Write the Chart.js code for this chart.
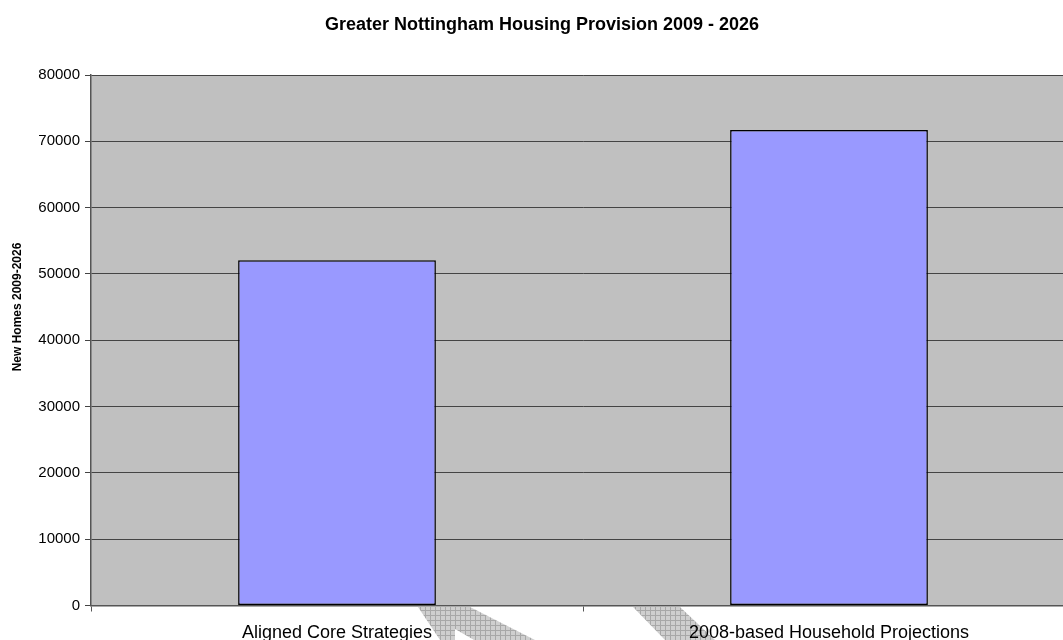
<!DOCTYPE html>
<html>
<head>
<meta charset="utf-8">
<script src="https://cdn.jsdelivr.net/npm/chart.js@4"></script>
<style>
  html, body { margin: 0; padding: 0; background: #fff; overflow: hidden; }
  #wrap { width: 1075px; height: 640px; }
</style>
</head>
<body>
<div id="wrap"><canvas id="housingChart"></canvas></div>
<script>
// 資料
const categories = ['Aligned Core Strategies', '2008-based Household Projections'];
const newHomes = [52050, 71700];
const yTicks = [0, 10000, 20000, 30000, 40000, 50000, 60000, 70000, 80000];

const chartTitle = 'Greater Nottingham Housing Provision 2009 - 2026';
const yTitle = 'New Homes 2009-2026';
const FONT = '"Liberation Sans", Arial, sans-serif';

// 網格花紋 (底部的浮水印箭頭)
function hatchPattern(ctx) {
    const c = document.createElement('canvas');
    c.width = 5; c.height = 5;
    const p = c.getContext('2d');
    p.fillStyle = '#cfcfcf';
    p.fillRect(0, 0, 5, 5);
    p.fillStyle = '#a8a8a8';
    p.fillRect(0, 0, 5, 1);
    p.fillRect(0, 0, 1, 5);
    return ctx.createPattern(c, 'repeat');
}

function poly(ctx, pts) {
    ctx.beginPath();
    pts.forEach(([x, y], i) => i ? ctx.lineTo(x, y) : ctx.moveTo(x, y));
    ctx.closePath();
    ctx.fill();
}

// 標題與灰色底
const decorPlugin = {
    id: 'decor',
    beforeDraw(chart) {
        const { ctx, chartArea: a } = chart;
        ctx.save();
        ctx.fillStyle = '#c0c0c0';
        ctx.fillRect(a.left, a.top, a.right - a.left, a.bottom - a.top);
        // 浮水印
        ctx.fillStyle = hatchPattern(ctx);
        poly(ctx, [[418, 607], [470, 607], [535, 640], [440, 640]]);
        poly(ctx, [[633, 607], [680, 607], [715, 640], [665, 640]]);
        ctx.fillStyle = '#fff';
        poly(ctx, [[455, 629], [474, 640], [455, 640]]);
        ctx.restore();
    },
    afterDraw(chart) {
        const ctx = chart.ctx;
        ctx.save();
        ctx.fillStyle = '#000';
        ctx.textAlign = 'center';
        ctx.textBaseline = 'middle';
        ctx.font = 'bold 18px ' + FONT;
        ctx.fillText(chartTitle, 542, 25);
        ctx.font = 'bold 12px ' + FONT;
        ctx.translate(18, 307);
        ctx.rotate(-Math.PI / 2);
        ctx.fillText(yTitle, 0, 0);
        ctx.restore();
    }
};

new Chart(document.getElementById('housingChart'), {
    type: 'bar',
    data: {
        labels: categories,
        datasets: [{
            data: newHomes,
            backgroundColor: '#9999ff',
            borderColor: '#000',
            borderWidth: 1.5,
            borderSkipped: false,
            barPercentage: 0.402,
            categoryPercentage: 1
        }]
    },
    options: {
        responsive: true,
        maintainAspectRatio: false,
        animation: false,
        devicePixelRatio: 1,
        layout: { padding: { top: 75, right: 0, bottom: 0, left: 0 } },
        plugins: {
            legend: { display: false },
            title: { display: false },
            tooltip: { enabled: false }
        },
        scales: {
            x: {
                offset: true,
                grid: {
                    offset: true,
                    drawOnChartArea: false,
                    tickLength: 6,
                    color: '#555'
                },
                border: { color: '#555', width: 1.5 },
                ticks: {
                    color: '#000',
                    padding: 11,
                    maxRotation: 0,
                    font: { family: FONT, size: 18 }
                },
                afterFit(s) { s.height = 34.5; }
            },
            y: {
                min: 0,
                max: 80000,
                afterBuildTicks(s) { s.ticks = yTicks.map(v => ({ value: v })); },
                grid: { color: '#444', lineWidth: 1, tickLength: 6 },
                border: { color: '#555', width: 1.5 },
                ticks: {
                    color: '#000',
                    padding: 5,
                    callback: v => String(v),
                    font: { family: FONT, size: 15 }
                },
                afterFit(s) { s.width = 91; }
            }
        }
    },
    plugins: [decorPlugin]
});
</script>
</body>
</html>
